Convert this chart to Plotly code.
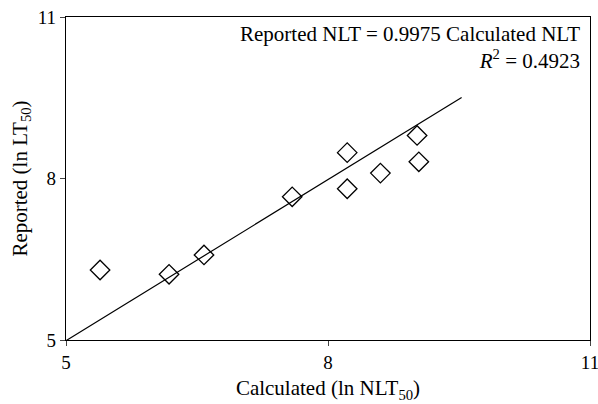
import plotly.graph_objects as go

calculated = [5.39, 6.18, 6.58, 7.59, 8.22, 8.22, 8.60, 9.02, 9.04]
reported = [6.30, 6.22, 6.58, 7.66, 8.48, 7.81, 8.10, 8.80, 8.31]
slope = 0.9975
fit_x = [5.0, 9.53]
fit_y = [slope * v for v in fit_x]
ticks = [5, 8, 11]

font = "Liberation Serif, Times New Roman, serif"

fig = go.Figure()
fig.add_trace(go.Scatter(x=fit_x, y=fit_y, mode="lines",
                         line=dict(color="black", width=1.2), showlegend=False))
fig.add_trace(go.Scatter(x=calculated, y=reported, mode="markers",
                         marker=dict(symbol="diamond-open", size=15, color="black",
                                     line=dict(width=1.3, color="black")),
                         showlegend=False))

fig.update_layout(
    width=598, height=404,
    margin=dict(l=66, r=8, t=17, b=64, autoexpand=False),
    paper_bgcolor="white", plot_bgcolor="white",
    font=dict(family=font, size=20, color="black"),
    xaxis=dict(range=[5, 11], tickvals=ticks, ticks="outside", ticklen=5,
               showgrid=False, zeroline=False, showline=True, linecolor="black",
               linewidth=1.3, mirror=True, tickfont=dict(size=19),
               ticklabeloverflow="allow",
               title=dict(text="Calculated (ln NLT<sub>50</sub>)", standoff=8,
                          font=dict(size=21))),
    yaxis=dict(range=[5, 11], tickvals=ticks, ticks="outside", ticklen=5,
               showgrid=False, zeroline=False, showline=True, linecolor="black",
               linewidth=1.3, mirror=True, tickfont=dict(size=19),
               ticklabeloverflow="allow",
               title=dict(text="Reported (ln LT<sub>50</sub>)", standoff=4,
                          font=dict(size=21))),
    annotations=[
        dict(x=0.985, y=0.99, xref="paper", yref="paper", xanchor="right", yanchor="top",
             align="right", showarrow=False,
             text="Reported NLT = 0.9975 Calculated NLT<br><i>R</i><sup>2</sup> = 0.4923",
             font=dict(family=font, size=21, color="black")),
    ],
)

fig.write_html("out.html", config={"displayModeBar": False},
               post_script="document.body.style.margin='0';document.body.style.padding='0';")
